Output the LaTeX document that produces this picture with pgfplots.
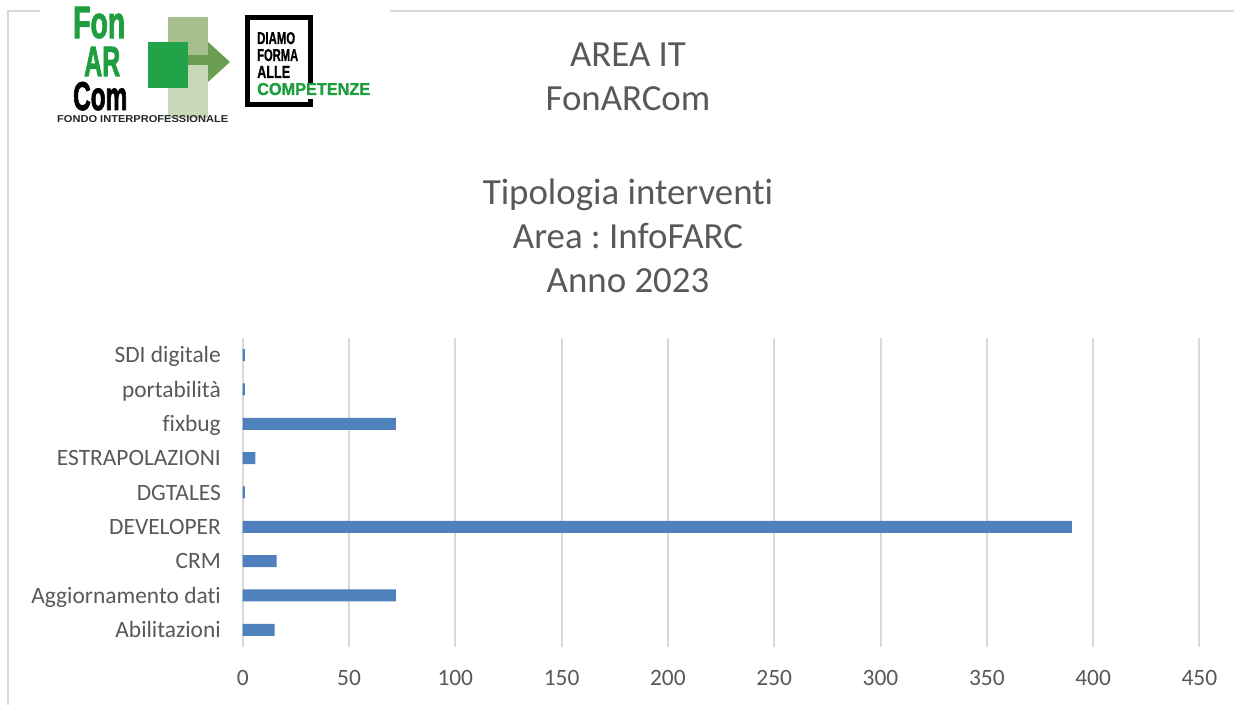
\documentclass[border=0pt]{standalone}
\usepackage{pgfplots}
\pgfplotsset{compat=1.18}
\usepackage{fontspec}
\setmainfont{Carlito}[Ligatures={NoCommon}]
\newfontfamily\logofont{Liberation Sans}[FakeBold=2.5]
\newfontfamily\boxfont{Liberation Sans}[FakeBold=1.2]
\newfontfamily\smallfont{Liberation Sans}
\frenchspacing

\definecolor{barblue}{HTML}{4F81BD}
\definecolor{gridgray}{HTML}{D9D9D9}
\definecolor{txtgray}{HTML}{595959}
\definecolor{logogreen}{HTML}{1F9E40}
\definecolor{sqgreen}{HTML}{22A349}
\definecolor{olive}{HTML}{A7BF8E}
\definecolor{palegreen}{HTML}{C9D8B9}
\definecolor{arrowgreen}{HTML}{6B9E52}

\begin{document}
\begin{tikzpicture}
\begin{scope}[x=1bp,y=1bp]
\useasboundingbox (0,0) rectangle (1234,705);
\fill[white] (0,0) rectangle (1234,705);

% chart frame
\draw[gridgray, line width=1.5bp] (8,-5) -- (8,694) -- (1240,694);

% logo
\fill[white] (40,572) rectangle (390,706);
\fill[olive] (168,688) rectangle (208,650);
\fill[palegreen] (168,640) rectangle (208,587);
\fill[arrowgreen] (188,650) rectangle (209,640);
\fill[arrowgreen] (208,663) -- (230,643) -- (208,623) -- cycle;
\fill[sqgreen] (148,663) rectangle (188,617);
\node[anchor=base west, inner sep=0, text=logogreen] at (73,667)
  {\resizebox{52bp}{31bp}{\logofont\bfseries Fon}};
\node[anchor=base west, inner sep=0, text=logogreen] at (84,629)
  {\resizebox{36bp}{29bp}{\logofont\bfseries AR}};
\node[anchor=base west, inner sep=0, text=black] at (73,595)
  {\resizebox{54bp}{28bp}{\logofont\bfseries Com}};
\node[anchor=base west, inner sep=0, text=black!85] at (57,582)
  {\resizebox{171bp}{7bp}{\smallfont\bfseries FONDO INTERPROFESSIONALE}};
\draw[black, line width=5bp] (247.5,687.5) rectangle (310.5,600.5);
\node[anchor=base west, inner sep=0] at (257,661)
  {\resizebox{38bp}{12bp}{\boxfont\bfseries DIAMO}};
\node[anchor=base west, inner sep=0] at (257,644)
  {\resizebox{41bp}{12bp}{\boxfont\bfseries FORMA}};
\node[anchor=base west, inner sep=0] at (257,627)
  {\resizebox{33bp}{12bp}{\boxfont\bfseries ALLE}};
\fill[white] (305,622) rectangle (316,606);
\node[anchor=base west, inner sep=0, text=logogreen] at (257,610)
  {\resizebox{113bp}{12bp}{\boxfont\bfseries COMPETENZE}};

% titles
\begin{scope}[every node/.style={anchor=base, inner sep=0, text=txtgray,
    font=\fontsize{37}{44}\selectfont}]
\node at (628,638) {AREA IT};
\node at (628,594) {FonARCom};
\node at (628,500) {Tipologia interventi};
\node at (628,456) {Area : InfoFARC};
\node at (628,412) {Anno 2023};
\end{scope}
\end{scope}

\begin{axis}[
  at={(242.7bp,58bp)}, anchor=south west,
  scale only axis, width=956.7bp, height=309bp,
  xmin=0, xmax=450, ymin=-0.5, ymax=8.5,
  xbar, bar width=12bp,
  axis line style={draw=none},
  xtick={0,50,...,450},
  ytick={0,...,8},
  yticklabels={Abilitazioni, Aggiornamento dati, CRM, DEVELOPER, DGTALES,
    ESTRAPOLAZIONI, fixbug, portabilità, SDI digitale},
  xmajorgrids, grid style={gridgray, line width=2bp},
  major tick length=0pt,
  /pgf/number format/assume math mode=true,
  tick label style={font=\fontsize{23.5}{28}\selectfont, text=txtgray},
  xticklabel style={anchor=base, inner sep=0pt, yshift=-38.5bp},
  yticklabel style={anchor=base east, inner sep=0pt, xshift=-21.7bp, yshift=-7.8bp},
]
\addplot[fill=barblue, draw=none, bar shift=0pt] coordinates {
  (15,0) (72,1) (16,2) (390,3) (1,4) (6,5) (72,6) (1,7) (1,8)
};
\end{axis}
\end{tikzpicture}
\end{document}
